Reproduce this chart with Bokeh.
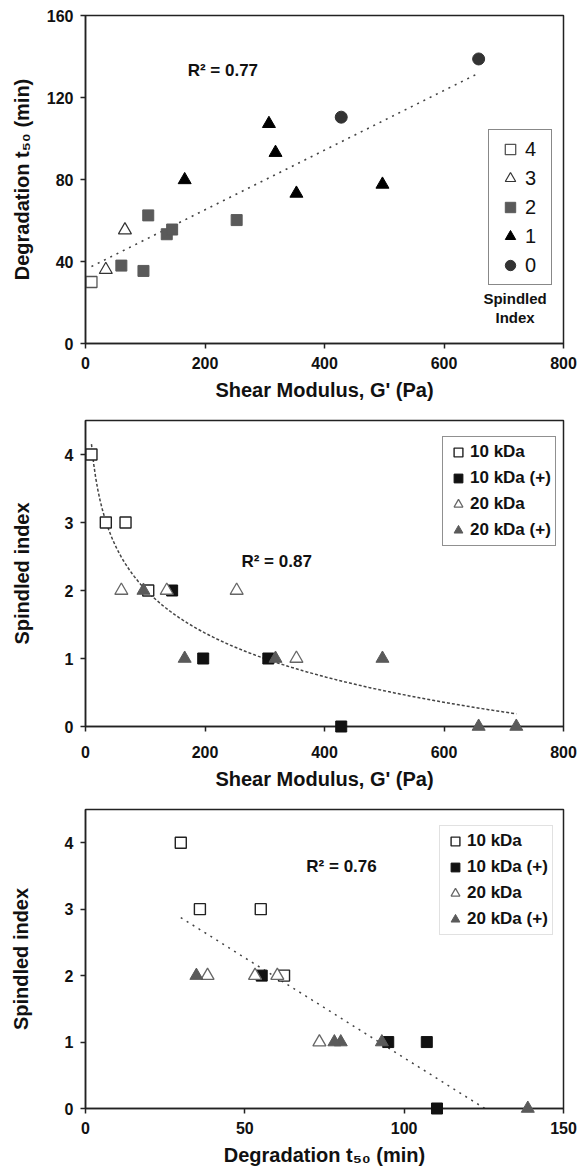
import numpy as np
from bokeh.plotting import figure
from bokeh.models import Range1d, FixedTicker, Label
from bokeh.layouts import column
from bokeh.embed import file_html
from bokeh.resources import INLINE

# ---------------- data ----------------
# Panel A: degradation t50 (min) vs shear modulus G' (Pa), grouped by spindled index
A_G_4 = [10]
A_T_4 = [30.0]
A_G_3 = [34, 66]
A_T_3 = [36.0, 55.3]
A_G_2 = [60, 97, 105, 136, 145, 253]
A_T_2 = [38.0, 35.4, 62.5, 53.3, 55.6, 60.2]
A_G_1 = [166, 307, 318, 353, 497]
A_T_1 = [79.8, 107.2, 93.1, 73.2, 77.6]
A_G_0 = [428, 658]
A_T_0 = [110.4, 138.8]

# Panels B, C: per hydrogel formulation
G_10 = [10, 34, 67, 105]
SI_10 = [4, 3, 3, 2]
T_10 = [29.9, 35.9, 55.0, 62.3]

G_10p = [145, 197, 306, 428]
SI_10p = [2, 1, 1, 0]
T_10p = [55.3, 95.0, 107.1, 110.3]

G_20 = [60, 136, 253, 353]
SI_20 = [2, 2, 2, 1]
T_20 = [38.3, 53.2, 60.2, 73.4]

G_20p = [97, 166, 318, 497, 658, 721]
SI_20p = [2, 1, 1, 1, 0, 0]
T_20p = [34.8, 80.1, 93.0, 78.1, 138.8, float("nan")]

SERIES = ["10 kDa", "10 kDa (+)", "20 kDa", "20 kDa (+)"]
INDEX_LABELS = ["4", "3", "2", "1", "0"]
R2_A, R2_B, R2_C = "R\u00b2 = 0.77", "R\u00b2 = 0.87", "R\u00b2 = 0.76"

FONT = "Liberation Sans"
W = 584
TRI = 13


def make_fig(h, xr, yr, xt, yt, bl, br, bt, bb, xstand, xals, ystand, yals):
    p = figure(width=W, height=h, x_range=Range1d(*xr), y_range=Range1d(*yr),
               output_backend="svg", toolbar_location=None,
               min_border_left=bl, min_border_right=br,
               min_border_top=bt, min_border_bottom=bb)
    p.xgrid.visible = False
    p.ygrid.visible = False
    p.background_fill_color = "white"
    p.border_fill_color = "white"
    p.outline_line_color = "#222222"
    p.outline_line_width = 1.5
    for ax in (p.xaxis[0], p.yaxis[0]):
        ax.axis_line_color = "#222222"
        ax.axis_line_width = 1.5
        ax.major_tick_line_color = "#222222"
        ax.major_tick_line_width = 1.5
        ax.major_tick_out = 5
        ax.major_tick_in = 0
        ax.minor_tick_out = 0
        ax.minor_tick_in = 0
        ax.major_label_text_font = FONT
        ax.major_label_text_font_size = "16px"
        ax.major_label_text_font_style = "bold"
        ax.major_label_text_color = "#111111"
        ax.axis_label_text_font = FONT
        ax.axis_label_text_font_size = "20px"
        ax.axis_label_text_font_style = "bold"
        ax.axis_label_text_color = "#111111"
    p.xaxis[0].ticker = FixedTicker(ticks=xt)
    p.yaxis[0].ticker = FixedTicker(ticks=yt)
    p.xaxis[0].major_label_standoff = xstand
    p.xaxis[0].axis_label_standoff = xals
    p.yaxis[0].major_label_standoff = ystand
    p.yaxis[0].axis_label_standoff = yals
    return p


def style_legend(p, loc, pad, spacing, gw, gh, lh, lw, lstand, fsize, fstyle, bcolor, bwidth):
    lg = p.legend[0]
    lg.location = loc
    lg.margin = 0
    lg.padding = pad
    lg.spacing = spacing
    lg.glyph_width = gw
    lg.glyph_height = gh
    lg.label_height = lh
    lg.label_width = lw
    lg.label_standoff = lstand
    lg.label_text_font = FONT
    lg.label_text_font_size = fsize
    lg.label_text_font_style = fstyle
    lg.label_text_color = "#111111"
    lg.border_line_color = bcolor
    lg.border_line_width = bwidth
    lg.background_fill_color = "white"
    lg.background_fill_alpha = 1.0


def lbl(p, x, y, text, size, align="left"):
    p.add_layout(Label(x=x, y=y, text=text, text_font=FONT, text_font_size=size,
                       text_font_style="bold", text_color="#111111",
                       text_align=align, text_baseline="middle"))


# ---------------- Panel A ----------------
pA = make_fig(405, (0, 800), (0, 160), [0, 200, 400, 600, 800], [0, 40, 80, 120, 160],
              84, 17, 15, 62, 8, 7, 7, 11)
pA.xaxis[0].axis_label = "Shear Modulus, G' (Pa)"
pA.yaxis[0].axis_label = "Degradation t\u2085\u2080 (min)"

allG = np.array(A_G_4 + A_G_3 + A_G_2 + A_G_1 + A_G_0, dtype=float)
allT = np.array(A_T_4 + A_T_3 + A_T_2 + A_T_1 + A_T_0, dtype=float)
m, c = np.polyfit(allG, allT, 1)
fx = np.array([allG.min(), allG.max()])
pA.line(fx, m * fx + c, line_color="#444444", line_width=1.6, line_dash="2 5")

pA.scatter(A_G_4, A_T_4, marker="square", size=11, fill_color="white",
           line_color="#555555", line_width=1.3, legend_label=INDEX_LABELS[0])
pA.scatter(A_G_3, A_T_3, marker="triangle", size=TRI, fill_color="white",
           line_color="#333333", line_width=1.2, legend_label=INDEX_LABELS[1])
pA.scatter(A_G_2, A_T_2, marker="square", size=11, fill_color="#5a5a5a",
           line_color="#5a5a5a", legend_label=INDEX_LABELS[2])
pA.scatter(A_G_1, A_T_1, marker="triangle", size=TRI, fill_color="#000000",
           line_color="#000000", legend_label=INDEX_LABELS[3])
pA.scatter(A_G_0, A_T_0, marker="circle", size=12, fill_color="#333333",
           line_color="#333333", legend_label=INDEX_LABELS[4])
style_legend(pA, (403, 58), 6, 3, 30, 26, 26, 20, 0, "20px", "normal", "#111111", 1.5)
lbl(pA, 171, 133, R2_A, "17px")
lbl(pA, 719, 22, "Spindled", "15px", "center")
lbl(pA, 719, 12.7, "Index", "15px", "center")


def draw_series(p, xs_list, ys_list):
    rs = [
        p.scatter(xs_list[0], ys_list[0], marker="square", size=11, fill_color="white",
                  line_color="#222222", line_width=1.4, legend_label=SERIES[0]),
        p.scatter(xs_list[1], ys_list[1], marker="square", size=11, fill_color="#111111",
                  line_color="#111111", legend_label=SERIES[1]),
        p.scatter(xs_list[2], ys_list[2], marker="triangle", size=TRI, fill_color="white",
                  line_color="#666666", line_width=1.3, legend_label=SERIES[2]),
        p.scatter(xs_list[3], ys_list[3], marker="triangle", size=TRI, fill_color="#5a5a5a",
                  line_color="#5a5a5a", legend_label=SERIES[3]),
    ]
    # markers sitting on the x axis are drawn whole, not cut by the frame
    for r in rs:
        r.level = "overlay"


# ---------------- Panel B ----------------
pB = make_fig(389, (0, 800), (0, 4.5), [0, 200, 400, 600, 800], [0, 1, 2, 3, 4],
              84, 18, 15, 68, 14, 7, 7, 29)
pB.xaxis[0].axis_label = "Shear Modulus, G' (Pa)"
pB.yaxis[0].axis_label = "Spindled index"
gB = np.array(G_10 + G_10p + G_20 + G_20p, dtype=float)
sB = np.array(SI_10 + SI_10p + SI_20 + SI_20p, dtype=float)
b1, b0 = np.polyfit(np.log(gB), sB, 1)
cx = np.linspace(gB.min(), gB.max(), 200)
pB.line(cx, b0 + b1 * np.log(cx), line_color="#444444", line_width=1.5, line_dash="3 2")
draw_series(pB, [G_10, G_10p, G_20, G_20p], [SI_10, SI_10p, SI_20, SI_20p])
style_legend(pB, (357, 180), 4, 4, 22, 22, 22, 20, 1, "17px", "bold", "#222222", 1.5)
lbl(pB, 261, 2.42, R2_B, "17px")

# ---------------- Panel C ----------------
pC = make_fig(376, (0, 150), (0, 4.5), [0, 50, 100, 150], [0, 1, 2, 3, 4],
              85, 21, 15, 62, 8, 7, 7, 30)
pC.xaxis[0].axis_label = "Degradation t\u2085\u2080 (min)"
pC.yaxis[0].axis_label = "Spindled index"
tC = np.array(T_10 + T_10p + T_20 + T_20p, dtype=float)
sC = np.array(SI_10 + SI_10p + SI_20 + SI_20p, dtype=float)
ok = ~np.isnan(tC)
k1, k0 = np.polyfit(tC[ok], sC[ok], 1)
lx = np.array([tC[ok].min(), tC[ok].max()])
pC.line(lx, k0 + k1 * lx, line_color="#444444", line_width=1.5, line_dash="2 5")
draw_series(pC, [T_10, T_10p, T_20, T_20p], [SI_10, SI_10p, SI_20, SI_20p])
style_legend(pC, (354, 173), 4, 4, 22, 22, 22, 20, 1, "17px", "bold", "#c4c4c4", 1.0)
lbl(pC, 69.3, 3.64, R2_C, "17px")

layout = column(pA, pB, pC)
open("out.html", "w").write(file_html(layout, INLINE))
